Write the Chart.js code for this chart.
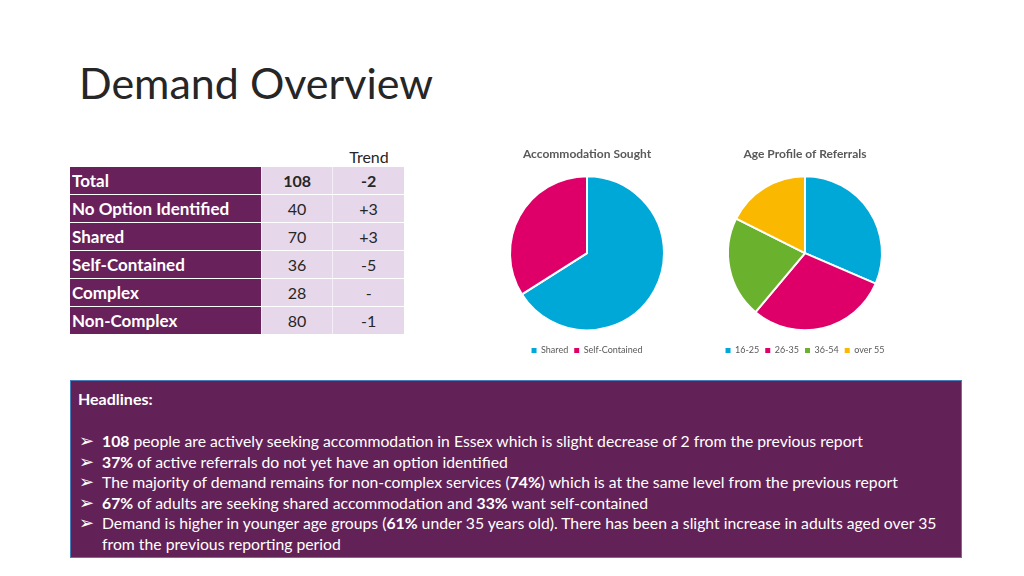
<!DOCTYPE html>
<html lang="en">
<head>
  <meta charset="UTF-8">
  <title>Demand Overview</title>
  <script src="https://cdn.jsdelivr.net/npm/chart.js"></script>
  <style>
    body { margin: 0; width: 1024px; height: 576px; background: #fff; position: relative; overflow: hidden; font-family: Lato, 'Open Sans', sans-serif; }
    .abs { position: absolute; }
    #title { left: 79px; top: 57px; font-size: 43px; color: #262626; }
    #trend { left: 334px; top: 147px; width: 70px; text-align: center; font-size: 16px; color: #262626; }
    #table { left: 70px; top: 167px; border-collapse: collapse; table-layout: fixed; width: 334px; }
    #table td { height: 27px; padding: 0; font-size: 16px; border-bottom: 1px solid #fff; }
    #table td.lab { width: 189px; background: #68215b; color: #fff; font-weight: bold; font-size: 17px; padding-left: 2px; }
    #table td.val { background: #e6d8ea; color: #262626; text-align: center; border-left: 1px solid #f4eef6; }
    #table tr:first-child td.val { font-weight: bold; }
    #box { left: 70px; top: 380px; width: 890px; height: 176px; background: #632257; border: 1.5px solid #4a7ebb; color: #fff; }
    #box h3 { margin: 0; position: absolute; left: 7px; top: 8px; font-size: 16px; }
    #box ul { list-style: none; margin: 0; padding: 0; position: absolute; left: 7px; top: 50px; width: 880px; font-size: 15.75px; line-height: 20.6px; white-space: nowrap; }
    #box li { padding-left: 24px; position: relative; }
    #box li::before { content: '\27A2'; position: absolute; left: 1px; top: 0; font-family: 'DejaVu Sans'; font-size: 18px; line-height: 20.6px; }
    .pie { width: 200px; height: 225px; }
  </style>
</head>
<body>
  <div id="title" class="abs">Demand Overview</div>
  <div id="trend" class="abs">Trend</div>
  <table id="table" class="abs"></table>

  <div class="abs pie" style="left:487px; top:140px;"><canvas id="accom"></canvas></div>
  <div class="abs pie" style="left:705px; top:140px;"><canvas id="age"></canvas></div>

  <div id="box" class="abs">
    <h3>Headlines:</h3>
    <ul>
      <li><b>108</b> people are actively seeking accommodation in Essex which is slight decrease of 2 from the previous report</li>
      <li><b>37%</b> of active referrals do not yet have an option identified</li>
      <li>The majority of demand remains for non-complex services (<b>74%</b>) which is at the same level from the previous report</li>
      <li><b>67%</b> of adults are seeking shared accommodation and <b>33%</b> want self-contained</li>
      <li>Demand is higher in younger age groups (<b>61%</b> under 35 years old). There has been a slight increase in adults aged over 35<br>from the previous reporting period</li>
    </ul>
  </div>

  <script>
    // table
    const rowLabels = ['Total', 'No Option Identified', 'Shared', 'Self-Contained', 'Complex', 'Non-Complex']
    const rowCounts = [108, 40, 70, 36, 28, 80]
    const rowTrends = ['-2', '+3', '+3', '-5', '-', '-1']

    // pies
    const accomLabels = ['Shared', 'Self-Contained']
    const accomValues = [70, 36]
    const ageLabels = ['16-25', '26-35', '36-54', 'over 55']
    const ageValues = [34, 32, 23, 19]

    const blue = '#00a8d8'
    const pink = '#de0068'
    const green = '#6ab12e'
    const gold = '#fbb800'

    const table = document.getElementById('table')
    rowLabels.forEach((lab, i) => {
      const tr = document.createElement('tr')
      tr.innerHTML = '<td class="lab">' + lab + '</td><td class="val">' + rowCounts[i] + '</td><td class="val">' + rowTrends[i] + '</td>'
      table.appendChild(tr)
    })

    const baseLabels = Chart.overrides.doughnut.plugins.legend.labels.generateLabels

    function makePie(id, title, labels, values, colors) {
      new Chart(document.getElementById(id), {
        type: 'pie',
        data: {
          labels: labels,
          datasets: [{
            data: values,
            backgroundColor: colors,
            borderColor: '#fff',
            borderWidth: 2
          }]
        },
        options: {
          responsive: true,
          maintainAspectRatio: false,
          animation: false,
          radius: 77,
          layout: { padding: 0 },
          plugins: {
            title: {
              display: true,
              text: title,
              color: '#595959',
              font: { size: 12, weight: 'bold', family: 'Lato' },
              padding: { top: 7, bottom: 5 }
            },
            legend: {
              position: 'bottom',
              labels: {
                boxWidth: 5,
                boxHeight: 5,
                padding: 6,
                color: '#595959',
                font: { size: 9, family: 'Lato' },
                generateLabels: (chart) => baseLabels(chart).map(l => ({ ...l, lineWidth: 0 }))
              }
            },
            tooltip: { enabled: false }
          }
        }
      })
    }

    makePie('accom', 'Accommodation Sought', accomLabels, accomValues, [blue, pink])
    makePie('age', 'Age Profile of Referrals', ageLabels, ageValues, [blue, pink, green, gold])
  </script>
</body>
</html>
